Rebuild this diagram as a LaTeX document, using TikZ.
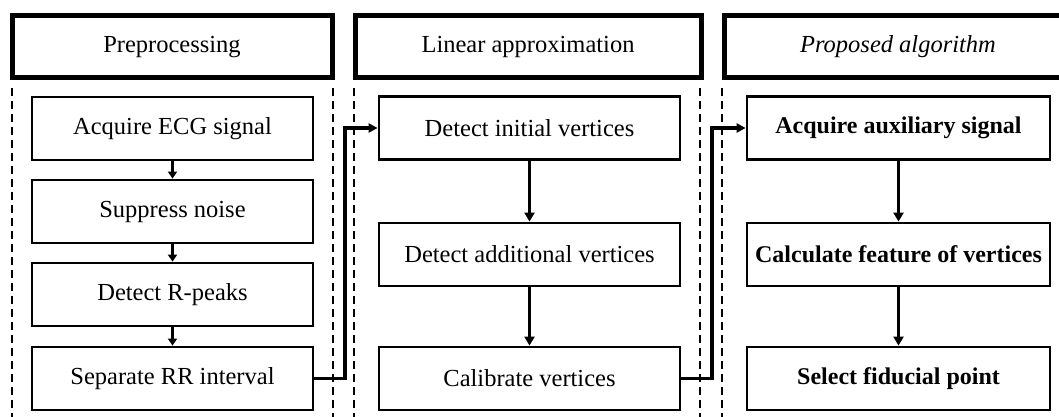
\documentclass[tikz,border=0pt]{standalone}
\usepackage{fontspec}
\setmainfont{Liberation Serif}
\usetikzlibrary{arrows.meta,calc}
\begin{document}
\begin{tikzpicture}[x=1pt,y=-1pt,
  txt/.style={font=\fontsize{24.5}{28}\selectfont},
  header/.style={draw,line width=5pt,minimum height=62pt,inner sep=0pt,txt},
  stepbox/.style={draw,line width=2.8pt,minimum height=63pt,inner sep=0pt,txt},
  boldbox/.style={stepbox,minimum width=303pt,font=\fontsize{24}{28}\selectfont\bfseries},
  lane/.style={line width=1.8pt,dash pattern=on 8pt off 5pt},
  flow/.style={line width=3.2pt,-{Triangle[length=9pt,width=10pt]}},
  shortflow/.style={line width=3.2pt,-{Triangle[length=7pt,width=9pt]}},
  link/.style={line width=3.2pt,-{Triangle[length=9pt,width=9pt]}}]
\clip (0,0) rectangle (1059,417);
\fill[white] (0,0) rectangle (1059,417);

% section headers
\node[header,minimum width=320pt] (h1) at (172,47) {Preprocessing};
\node[header,minimum width=346pt] (h2) at (528,47) {Linear approximation};
\node[header,minimum width=356pt] (h3) at (902,47) {};
\node[font=\fontsize{24.5}{28}\selectfont\itshape] (h3t) at (898,47) {Proposed algorithm};

% lane borders
\foreach \x [count=\i] in {12,333,354,700,722} {
  \coordinate (t\i) at (\x,88);
  \coordinate (b\i) at (\x,420);
  \draw[lane] (t\i) -- (b\i);
}

% preprocessing steps
\node[stepbox,minimum width=281pt] (a1) at (172.5,128.5) {Acquire ECG signal};
\node[stepbox,minimum width=281pt] (a2) at (172.5,211.5) {Suppress noise};
\node[stepbox,minimum width=281pt] (a3) at (172.5,294.5) {Detect R-peaks};
\node[stepbox,minimum width=281pt] (a4) at (172.5,378.5) {Separate RR interval};

% linear approximation steps
\node[stepbox,minimum width=301pt] (b1) at (529.5,128) {Detect initial vertices};
\node[stepbox,minimum width=301pt] (b2) at (529.5,254.5) {Detect additional vertices};
\node[stepbox,minimum width=301pt] (b3) at (529.5,378.5) {Calibrate vertices};

% proposed algorithm steps
\node[boldbox] (c1) at (898.5,128) {Acquire auxiliary signal};
\node[boldbox] (c2) at (898.5,254.5) {Calculate feature of vertices};
\node[boldbox] (c3) at (898.5,378.5) {Select fiducial point};

% flow inside each lane
\draw[shortflow] (a1) -- (a2);
\draw[shortflow] (a2) -- (a3);
\draw[shortflow] (a3) -- (a4);
\draw[flow] (b1) -- (b2);
\draw[flow] (b2) -- (b3);
\draw[flow] (c1) -- (c2);
\draw[flow] (c2) -- (c3);

% links between lanes
\coordinate (j1) at (345,0);
\coordinate (j2) at (712,0);
\draw[link] (a4.east) -- (a4.east -| j1) -- (b1.west -| j1) -- (b1.west);
\draw[link] (b3.east) -- (b3.east -| j2) -- (c1.west -| j2) -- (c1.west);
\end{tikzpicture}
\end{document}
